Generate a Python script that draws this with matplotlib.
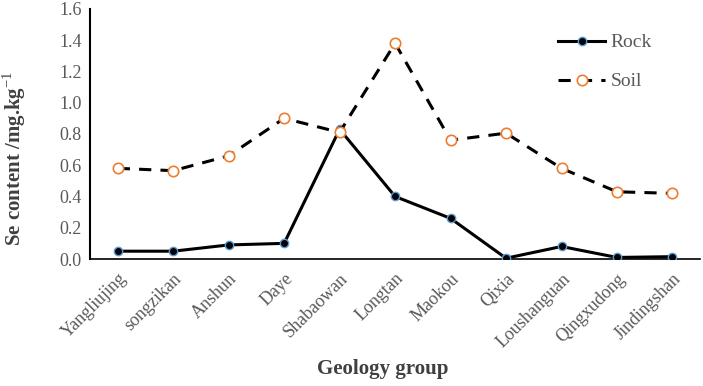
import matplotlib
matplotlib.use("Agg")
import matplotlib.pyplot as plt

categories = ["Yangliujing", "songzikan", "Anshun", "Daye", "Shabaowan", "Longtan",
              "Maokou", "Qixia", "Loushanguan", "Qingxudong", "Jindingshan"]
rock = [0.05, 0.05, 0.09, 0.10, 0.83, 0.40, 0.26, 0.005, 0.08, 0.01, 0.015]
soil = [0.58, 0.565, 0.66, 0.90, 0.81, 1.38, 0.76, 0.805, 0.58, 0.43, 0.42]
yticks = [0.0, 0.2, 0.4, 0.6, 0.8, 1.0, 1.2, 1.4, 1.6]

plt.rcParams['font.family'] = 'serif'
plt.rcParams['font.serif'] = ['Liberation Serif', 'DejaVu Serif']
plt.rcParams['mathtext.fontset'] = 'custom'
plt.rcParams['mathtext.rm'] = 'Liberation Serif'
plt.rcParams['mathtext.bf'] = 'Liberation Serif:bold'

fig = plt.figure(figsize=(7.03, 3.86), dpi=100)
ax = fig.add_axes([0.128, 0.329, 0.868, 0.648])
x = list(range(len(categories)))

ax.plot(x, rock, color='black', lw=2.2, marker='o', markersize=6,
        markerfacecolor='black', markeredgecolor='#5B9BD5', markeredgewidth=1.0,
        label='Rock', zorder=3)
ax.plot(x, soil, color='black', lw=2.2, ls=(0, (4, 3)), marker='o', markersize=7.5,
        markerfacecolor='white', markeredgecolor='#ED7D31', markeredgewidth=1.2,
        label='Soil', zorder=3)

ax.set_xlim(-0.5, len(categories) - 0.5)
ax.set_ylim(0, 1.6)
ax.set_yticks(yticks)
ax.set_yticklabels([f"{v:.1f}" for v in yticks], color='#595959', fontsize=13)
ax.set_xticks(x)
ax.set_xticklabels(categories, rotation=45, ha='right', rotation_mode='anchor',
                   color='#595959', fontsize=13)
ax.tick_params(axis='both', length=0, pad=6)
ax.tick_params(axis='x', pad=8)

for s in ['top', 'right']:
    ax.spines[s].set_visible(False)
ax.spines['left'].set_linewidth(1.5)
ax.spines['bottom'].set_linewidth(1.2)

fig.text(0.02, 0.59, 'Se content /mg.kg$^{\\mathrm{-1}}$', rotation=90, ha='center', va='center',
         fontsize=15, fontweight='bold', color='#404040')
fig.text(0.545, 0.043, 'Geology group', ha='center', va='center',
         fontsize=15, fontweight='bold', color='#404040')

leg = ax.legend(loc='upper right', bbox_to_anchor=(0.95, 0.97), frameon=False,
                fontsize=14, labelspacing=1.1, handlelength=2.4, handletextpad=0.3)
for t in leg.get_texts():
    t.set_color('#595959')
    t.set_fontfamily('Liberation Serif')

fig.savefig('out.png', dpi=100)
